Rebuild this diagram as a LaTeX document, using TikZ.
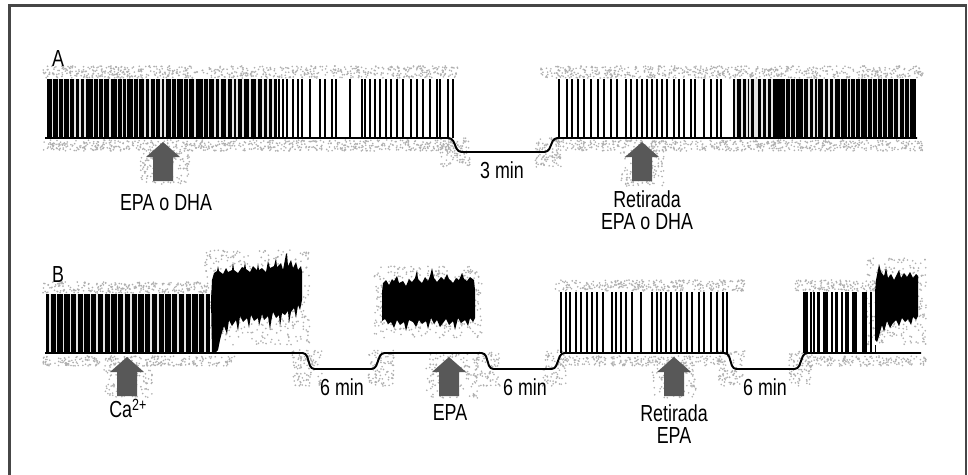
\documentclass[tikz,border=0pt]{standalone}
\usepackage{fontspec}
\setmainfont{Liberation Sans}[FakeStretch=0.77]
\definecolor{arrowgray}{RGB}{88,88,88}
\definecolor{specgray}{RGB}{175,175,175}
\definecolor{framegray}{RGB}{70,70,70}
\definecolor{gapgray}{RGB}{228,228,228}
\tikzset{
  lbl/.style={font=\fontsize{33}{30.5}\selectfont, inner sep=0pt, align=center},
  trace/.style={line width=2.8pt, rounded corners=5pt, line join=round},
  spk/.style={line width=3pt},
  gapline/.style={line width=2pt, gapgray},
  uparrow/.pic={\fill[arrowgray] (0,0) -- (17,15) -- (10,15) -- (10,39) -- (-10,39) -- (-10,15) -- (-17,15) -- cycle;}
}
\newcommand\speck[5]{%
  \foreach \i in {1,...,#5}{%
    \pgfmathsetmacro\sx{#1+rnd*(#3-#1)}%
    \pgfmathsetmacro\sy{#2+rnd*(#4-#2)}%
    \fill[specgray] (\sx,\sy) circle[radius=0.9];}}
\begin{document}
\begin{tikzpicture}[x=0.05cm,y=-0.05cm]
\useasboundingbox (0,0) rectangle (968,474);
\fill[white] (0,0) rectangle (968,474);
\pgfmathsetseed{4242}
% ---------- speckle halos ----------
\speck{43}{66}{458}{78}{700}
\speck{43}{140}{452}{151}{640}
\speck{440}{138}{470}{167}{110}
\speck{140}{150}{190}{184}{150}
\speck{540}{66}{923}{78}{650}
\speck{556}{140}{923}{151}{580}
\speck{535}{138}{562}{167}{100}
\speck{620}{150}{664}{186}{130}
\speck{43}{282}{214}{293}{270}
\speck{205}{250}{310}{345}{450}
\speck{43}{356}{235}{366}{270}
\speck{292}{350}{322}{386}{110}
\speck{368}{350}{394}{386}{95}
\speck{374}{266}{482}{338}{450}
\speck{104}{365}{152}{398}{110}
\speck{425}{352}{478}{398}{130}
\speck{472}{350}{500}{386}{90}
\speck{542}{350}{566}{386}{85}
\speck{554}{280}{745}{291}{300}
\speck{565}{356}{728}{366}{230}
\speck{652}{362}{696}{398}{110}
\speck{718}{350}{745}{386}{85}
\speck{788}{350}{812}{386}{80}
\speck{795}{280}{880}{291}{140}
\speck{866}{258}{926}{345}{330}
\speck{806}{356}{926}{366}{170}
% ---------- trace A ----------
\fill (47,79) rectangle (277,138);
\foreach \x in {52.7,58.3,63.3,69.3,75,80,85,93.3,98.3,103.3,110,117.3,122.7,126.7,133.3,138.3,145,150,155.7,161,165,171.7,176.7,183.3,188.3,195,203.3,208.3,215,220,227,233,237,243,250,257,263,268,273}
  \draw[gapline] (\x,79) -- (\x,136.5);
\foreach \x in {279,283,287,293,298,302,310,320,325,332,336,362,365,370,375,380,386,391,397,403,411,417,423,430,437,440,448,453}
  \draw[spk] (\x,79) -- (\x,138);
\draw[line width=4.2pt] (350,79) -- (350,138);
\foreach \x in {567,572,578,584,591,598,604,611,617,626,631,637,642,647,652,657,662,667,674,679,684,691,695,704,711,717,721}
  \draw[spk] (\x,79) -- (\x,138);
\draw[line width=4.2pt] (559,79) -- (559,138);
\fill (733,79) rectangle (916,138);
\foreach \x in {736.3,741.7,746.7,749.7,754.7,757.3,762.3,766.7,772.3}
  \draw[gapline, line width=2.8pt] (\x,79) -- (\x,136.5);
\foreach \x in {785.7,790.7,795.7,803.3,809,814,817.3,824,829,834,840.7,847.3,850.7,855.7,860.7,867.3,872.3,877.3,882.3,887.3,893.3,899,904.3,909.7}
  \draw[gapline] (\x,79) -- (\x,136.5);
\draw[trace] (45,138) -- (452,138) -- (458,152) -- (548,152) -- (554,138) -- (917,138);
% ---------- trace B ----------
\fill (46,294) rectangle (210,353);
\foreach \k in {0,...,23}
  \draw[gapline] ({50+6.74*\k},294) -- ({50+6.74*\k},351.5);
% block 1
\fill (211,300) -- (212,280) -- (214,273) -- (217,271) -- (218,266) -- (219,271) -- (223,274) -- (226,268) -- (228,272) -- (232,270) -- (233,262) -- (234,270) -- (238,273) -- (242,267) -- (244,268) -- (245,262) -- (246,269) -- (250,272) -- (253,266) -- (257,270) -- (258,263) -- (259,270) -- (262,268) -- (266,272) -- (268,261) -- (270,268) -- (274,266) -- (276,258) -- (277,267) -- (281,263) -- (283,270) -- (286,254) -- (287,253) -- (288,266) -- (291,260) -- (293,268) -- (296,262) -- (298,270) -- (301,266) -- (302,272) -- (302,300) -- (300,310) -- (298,305) -- (296,318) -- (294,308) -- (291,312) -- (289,323) -- (288,311) -- (285,315) -- (282,313) -- (280,327) -- (279,315) -- (276,318) -- (273,312) -- (271,322) -- (270,330) -- (268,316) -- (264,320) -- (262,314) -- (259,326) -- (258,318) -- (254,321) -- (251,315) -- (249,328) -- (247,318) -- (243,322) -- (240,316) -- (238,331) -- (236,320) -- (232,326) -- (229,320) -- (227,334) -- (224,326) -- (222,332) -- (220,340) -- (218,350) -- (216,352) -- (212,352) -- cycle;
% block 2
\fill (382,292) -- (383,283) -- (386,280) -- (389,285) -- (392,279) -- (394,281) -- (397,276) -- (399,283) -- (403,281) -- (406,286) -- (409,279) -- (412,282) -- (415,278) -- (417,270) -- (418,279) -- (422,283) -- (425,277) -- (428,281) -- (430,276) -- (432,268) -- (434,278) -- (437,282) -- (441,277) -- (444,280) -- (447,274) -- (449,279) -- (453,283) -- (456,278) -- (459,280) -- (462,273) -- (464,279) -- (467,281) -- (470,277) -- (474,280) -- (475,290) -- (475,318) -- (473,322) -- (470,318) -- (468,326) -- (465,320) -- (461,323) -- (458,318) -- (455,330) -- (453,321) -- (449,325) -- (446,319) -- (443,323) -- (440,327) -- (437,320) -- (434,324) -- (431,318) -- (428,329) -- (426,321) -- (422,324) -- (419,320) -- (416,327) -- (413,322) -- (409,320) -- (406,331) -- (404,322) -- (400,325) -- (397,320) -- (394,328) -- (391,322) -- (388,324) -- (385,319) -- (382,321) -- cycle;
% block 3 spikes
\foreach \x in {561,566,570,576,581,587,592,597,603,612,616,621,626,632,652,657,661,666,671,677,681,687,692,699,704,711,717,723,727}
  \draw[spk] (\x,292) -- (\x,353);
\draw[line width=4.2pt] (641,292) -- (641,353);
% block 4 spikes
\foreach \a/\b in {803/808,810/811.8,813/815,817/820,823/828,831/833,835/838,841/843,845/849,852/857,862/867,870/872}
  \fill (\a,292) rectangle (\b,353);
\fill (874.5,345) rectangle (876,353);
% block 5
\fill (875,340) -- (875,292) -- (876,280) -- (878,270) -- (879,264) -- (881,272) -- (884,276) -- (886,268) -- (888,278) -- (891,274) -- (894,280) -- (896,276) -- (899,270) -- (901,278) -- (904,273) -- (907,277) -- (910,272) -- (913,278) -- (916,274) -- (918,276) -- (918,316) -- (916,320) -- (913,317) -- (911,325) -- (908,319) -- (905,322) -- (902,318) -- (899,326) -- (896,320) -- (893,323) -- (890,328) -- (887,321) -- (884,332) -- (882,325) -- (879,336) -- (877,342) -- cycle;
\draw[trace] (45,353) -- (306,353) -- (311,369) -- (375,369) -- (381,353) -- (485,353) -- (490,369) -- (555,369) -- (561,353) -- (728,353) -- (733,369) -- (798,369) -- (804,353) -- (921,353);
% ---------- arrows ----------
\pic at (163,142) {uparrow};
\pic at (642,142) {uparrow};
\pic at (127,357) {uparrow};
\pic at (449,357) {uparrow};
\pic at (674,357) {uparrow};
% ---------- labels ----------
\node[lbl, anchor=base] (labA) at (58,66) {A};
\node[lbl, anchor=base] (labB) at (58,282) {B};
\node[lbl, anchor=base] (epadha) at (166,210) {EPA o DHA};
\node[lbl, anchor=base] (min3) at (502,178) {3 min};
\node[lbl, anchor=north] (retA) at (647,191) {Retirada\\EPA o DHA};
\node[lbl, anchor=base] (ca) at (128,417) {Ca\textsuperscript{2+}};
\node[lbl, anchor=base] (min6a) at (342,395) {6 min};
\node[lbl, anchor=base] (epa) at (450,420) {EPA};
\node[lbl, anchor=base] (min6b) at (525,395) {6 min};
\node[lbl, anchor=north] (retB) at (674,405) {Retirada\\EPA};
\node[lbl, anchor=base] (min6c) at (765,395) {6 min};
% ---------- frame ----------
\draw[framegray, line width=3pt] (9.5,490) -- (9.5,5.5) -- (966,5.5) -- (966,490);
\end{tikzpicture}
\end{document}
